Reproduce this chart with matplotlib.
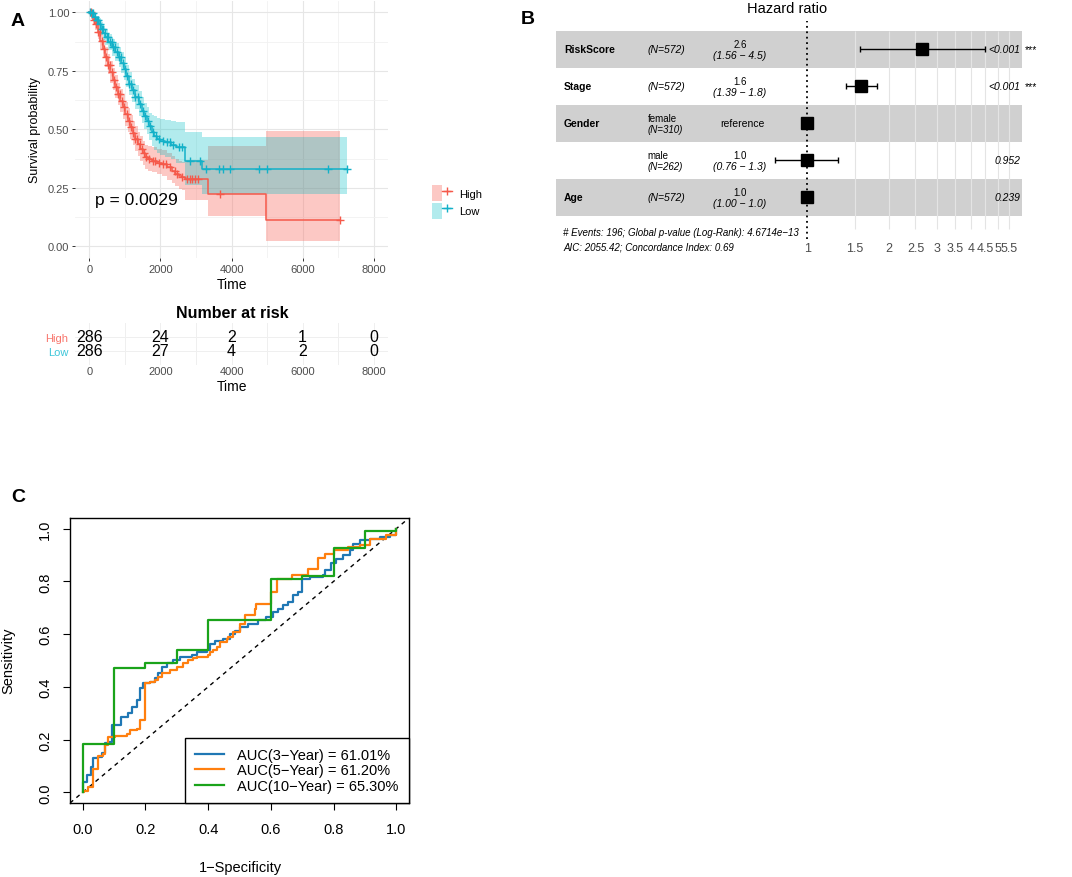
import numpy as np
import matplotlib
matplotlib.use("Agg")
import matplotlib.pyplot as plt
import matplotlib.transforms as mtransforms
from matplotlib.patches import Patch
from matplotlib.lines import Line2D
from matplotlib.legend_handler import HandlerTuple
from matplotlib.ticker import MultipleLocator, NullLocator

plt.rcParams["font.family"] = ["Liberation Sans", "DejaVu Sans"]

# ---------------- data: panel A (Kaplan-Meier) ----------------
high_t = [0, 60, 120, 170, 240, 310, 380, 450, 520, 590, 660, 731, 800, 871, 940, 1012, 1080,
          1152, 1220, 1293, 1360, 1433, 1500, 1574, 1650, 1761, 1900, 2043, 2200, 2324, 2420,
          2512, 2600, 2698, 3350, 4976, 7054]
high_s = [1.0, .985, .965, .95, .915, .879, .845, .808, .776, .744, .712, .68, .651, .622, .594,
          .565, .537, .508, .484, .459, .437, .416, .398, .38, .372, .366, .358, .352, .338, .323,
          .31, .302, .295, .288, .224, .114, .114]
high_lo = [1.0, .97, .945, .925, .885, .845, .808, .768, .735, .70, .667, .634, .604, .574, .546,
           .516, .488, .459, .434, .409, .387, .366, .348, .33, .322, .316, .307, .30, .285, .27,
           .256, .247, .24, .20, .128, .024, .024]
high_hi = [1.0, 1.0, .985, .975, .945, .915, .885, .85, .82, .79, .76, .73, .70, .673, .645, .617,
           .59, .561, .537, .512, .49, .47, .452, .435, .428, .423, .415, .41, .398, .385, .372,
           .365, .36, .37, .43, .494, .494]
high_cens = [50, 130, 190, 250, 300, 350, 410, 470, 530, 580, 640, 700, 760, 810, 870, 930, 990,
             1050, 1110, 1170, 1240, 1300, 1350, 1420, 1470, 1530, 1600, 1680, 1780, 1850, 1950,
             2080, 2150, 2280, 2400, 2480, 2620, 2740, 2820, 2900, 2980, 3060, 3680, 7054]

low_t = [0, 60, 130, 200, 262, 330, 400, 450, 540, 638, 730, 824, 900, 964, 1030, 1105, 1200,
         1293, 1390, 1481, 1550, 1622, 1690, 1762, 1830, 1903, 2000, 2136, 2300, 2450, 2698,
         3167, 7243]
low_s = [1.0, .995, .98, .965, .95, .93, .91, .893, .872, .85, .83, .808, .785, .758, .727, .694,
         .666, .637, .608, .58, .558, .537, .512, .487, .472, .459, .452, .444, .435, .423, .366,
         .33, .33]
low_lo = [1.0, .985, .965, .945, .925, .903, .88, .86, .837, .812, .79, .765, .74, .712, .68, .645,
          .616, .585, .555, .525, .503, .48, .455, .43, .413, .40, .392, .383, .372, .358, .26,
          .223, .223]
low_hi = [1.0, 1.0, .995, .985, .975, .958, .94, .925, .907, .888, .87, .851, .83, .805, .776, .745,
          .717, .69, .662, .636, .614, .594, .57, .56, .555, .55, .545, .54, .535, .53, .49,
          .466, .466]
low_cens = [20, 70, 110, 160, 210, 250, 300, 350, 390, 440, 490, 530, 580, 630, 680, 720, 780,
            830, 880, 940, 1000, 1060, 1120, 1180, 1230, 1300, 1360, 1420, 1500, 1560, 1640, 1720,
            1800, 1870, 1950, 2080, 2180, 2260, 2350, 2520, 2605, 2838, 3119, 3288, 3662, 3775,
            3944, 4760, 5012, 6726, 7243]

risk_times = [0, 2000, 4000, 6000, 8000]
risk_high = [286, 24, 2, 1, 0]
risk_low = [286, 27, 4, 2, 0]

# ---------------- data: panel B (forest plot) ----------------
fp_names = ["RiskScore", "Stage", "Gender", "", "Age"]
fp_level = ["(N=572)", "(N=572)", "female", "male", "(N=572)"]
fp_level2 = ["", "", "(N=310)", "(N=262)", ""]
fp_hr = [2.64, 1.58, 1.0, 1.0, 1.0]
fp_lo = [1.56, 1.39, np.nan, 0.76, 1.00]
fp_hi = [4.5, 1.8, np.nan, 1.3, 1.0]
fp_est = ["2.6", "1.6", "reference", "1.0", "1.0"]
fp_ci = ["(1.56 \u2212 4.5)", "(1.39 \u2212 1.8)", "", "(0.76 \u2212 1.3)", "(1.00 \u2212 1.0)"]
fp_p = ["<0.001", "<0.001", "", "0.952", "0.239"]
fp_star = ["***", "***", "", "", ""]
fp_ticks = [1, 1.5, 2, 2.5, 3, 3.5, 4, 4.5, 5, 5.5]

# ---------------- data: panel C (ROC) ----------------
roc3_x = [0, 0.002, 0.013, 0.026, 0.034, 0.05, 0.061, 0.071, 0.082, 0.093, 0.124, 0.146, 0.156,
          0.172, 0.183, 0.194, 0.215, 0.231, 0.241, 0.252, 0.268, 0.289, 0.311, 0.348, 0.364,
          0.396, 0.406, 0.422, 0.449, 0.47, 0.486, 0.502, 0.528, 0.559, 0.586, 0.607, 0.623,
          0.639, 0.655, 0.671, 0.687, 0.70, 0.724, 0.767, 0.772, 0.793, 0.809, 0.830, 0.851,
          0.862, 0.883, 0.915, 0.947, 0.979, 1.0, 1.0]
roc3_y = [0, 0.04, 0.066, 0.097, 0.129, 0.135, 0.148, 0.186, 0.192, 0.255, 0.287, 0.30, 0.325,
          0.35, 0.394, 0.413, 0.419, 0.432, 0.451, 0.476, 0.489, 0.501, 0.514, 0.52, 0.533,
          0.539, 0.564, 0.573, 0.583, 0.60, 0.611, 0.628, 0.64, 0.653, 0.665, 0.684, 0.697,
          0.71, 0.722, 0.747, 0.76, 0.81, 0.817, 0.823, 0.842, 0.868, 0.886, 0.899, 0.918,
          0.943, 0.955, 0.962, 0.968, 0.975, 0.981, 1.0]
roc5_x = [0, 0.005, 0.018, 0.034, 0.05, 0.066, 0.071, 0.082, 0.103, 0.14, 0.151, 0.172, 0.183,
          0.20, 0.215, 0.231, 0.241, 0.252, 0.279, 0.30, 0.321, 0.337, 0.353, 0.364, 0.401,
          0.406, 0.416, 0.428, 0.437, 0.46, 0.464, 0.48, 0.50, 0.517, 0.549, 0.552, 0.60, 0.618,
          0.666, 0.719, 0.75, 0.772, 0.80, 0.846, 0.883, 0.915, 0.968, 1.0, 1.0]
roc5_y = [0, 0.005, 0.02, 0.09, 0.14, 0.147, 0.18, 0.21, 0.215, 0.223, 0.236, 0.242, 0.274,
          0.413, 0.42, 0.425, 0.438, 0.451, 0.463, 0.476, 0.489, 0.501, 0.508, 0.514, 0.52,
          0.533, 0.539, 0.552, 0.571, 0.583, 0.59, 0.609, 0.64, 0.672, 0.697, 0.716, 0.76, 0.81,
          0.823, 0.847, 0.889, 0.902, 0.92, 0.93, 0.939, 0.962, 0.977, 0.987, 1.0]
roc10_x = [0, 0, 0.1, 0.2, 0.3, 0.4, 0.6, 0.7, 0.8, 0.9, 1.0, 1.0]
roc10_y = [0, 0.185, 0.47, 0.49, 0.54, 0.653, 0.81, 0.82, 0.927, 0.99, 1.0, 1.0]
roc_labels = ["AUC(3\u2212Year) = 61.01%", "AUC(5\u2212Year) = 61.20%", "AUC(10\u2212Year) = 65.30%"]
roc_colors = ["#1f77b4", "#ff7f0e", "#1aa31a"]

W, H = 1072, 878
fig = plt.figure(figsize=(W / 100, H / 100), dpi=100)


def box(l, t, r, b):
    return fig.add_axes([l / W, 1 - b / H, (r - l) / W, (b - t) / H])


def ftext(x, y, s, **kw):
    kw.setdefault("ha", "center")
    kw.setdefault("va", "center")
    fig.text(x / W, 1 - y / H, s, **kw)


red, cyan = "#F5594A", "#13B1C8"
grey_txt = "#4D4D4D"

# ================= panel A =================
ax = box(75, 1.6, 388, 259)
ax.set_xlim(-400, 8400)
ax.set_ylim(-0.05, 1.05)
ax.xaxis.set_major_locator(MultipleLocator(2000))
ax.xaxis.set_minor_locator(MultipleLocator(1000))
ax.yaxis.set_major_locator(MultipleLocator(0.25))
ax.yaxis.set_minor_locator(MultipleLocator(0.125))
ax.grid(which="major", color="#E6E6E6", lw=0.8)
ax.grid(which="minor", color="#F1F1F1", lw=0.6)
ax.set_axisbelow(True)
for sp in ax.spines.values():
    sp.set_visible(False)
ax.tick_params(which="minor", length=0)
ax.tick_params(which="major", length=2.5, width=0.7, color="#333333", labelsize=8,
               labelcolor=grey_txt, pad=1.5)
ax.set_yticks([0, 0.25, 0.5, 0.75, 1.0], ["0.00", "0.25", "0.50", "0.75", "1.00"])

for t, lo, hi, fc, al in [(high_t, high_lo, high_hi, "#F8766D", 0.4),
                          (low_t, low_lo, low_hi, "#00BFC4", 0.3)]:
    ax.fill_between(t, lo, hi, step="post", color=fc, alpha=al, lw=0)
for t, s, cens, col in [(high_t, high_s, high_cens, red), (low_t, low_s, low_cens, cyan)]:
    ax.step(t, s, where="post", color=col, lw=1.1)
    idx = np.searchsorted(t, cens, side="right") - 1
    ax.plot(cens, np.array(s)[idx], ls="none", marker="+", ms=6, mew=1, color=col)

ax.text(170, 0.2, "p = 0.0029", fontsize=12.5, va="center")
ftext(232, 285, "Time", fontsize=10)
ftext(35, 130, "Survival probability", fontsize=9, rotation=90)
ftext(18, 22, "A", fontsize=14, fontweight="bold")

handles = [(Patch(facecolor="#F8766D", alpha=0.4, lw=0),
            Line2D([], [], color=red, marker="+", lw=1, ms=6)),
           (Patch(facecolor="#00BFC4", alpha=0.3, lw=0),
            Line2D([], [], color=cyan, marker="+", lw=1, ms=6))]
fig.legend(handles, ["High", "Low"], handler_map={tuple: HandlerTuple(ndivide=None)},
           loc="upper left", bbox_to_anchor=(432 / W, 1 - 186 / H), frameon=False,
           fontsize=8, borderpad=0, handlelength=1.8, handleheight=1.9, labelspacing=0.1,
           handletextpad=0.6, borderaxespad=0)

# risk table
axr = box(75, 324, 388, 366)
axr.set_xlim(-400, 8400)
axr.set_ylim(-1, 2)
axr.xaxis.set_major_locator(MultipleLocator(2000))
axr.xaxis.set_minor_locator(MultipleLocator(1000))
axr.set_yticks([1, 0], ["High", "Low"])
axr.grid(which="both", axis="x", color="#EFEFEF", lw=0.7)
axr.grid(which="major", axis="y", color="#EFEFEF", lw=0.7)
axr.set_axisbelow(True)
for sp in axr.spines.values():
    sp.set_visible(False)
axr.tick_params(which="both", length=0)
axr.tick_params(axis="x", labelsize=8, labelcolor=grey_txt, pad=1)
axr.tick_params(axis="y", labelsize=8, pad=5)
axr.get_yticklabels()[0].set_color("#F8766D")
axr.get_yticklabels()[1].set_color("#3DC6D9")
for x, a, b in zip(risk_times, risk_high, risk_low):
    axr.text(x, 1, str(a), ha="center", va="center", fontsize=11.5)
    axr.text(x, 0, str(b), ha="center", va="center", fontsize=11.5)
ftext(232, 313, "Number at risk", fontsize=11.5, fontweight="bold")
ftext(232, 387, "Time", fontsize=10)

# ================= panel B =================
axf = box(556, 22, 1022, 240)
axf.set_xscale("log")
axf.set_xlim(0.1198, 6.15)
axf.set_ylim(5.122, -0.770)
for i in range(len(fp_names)):
    if i % 2 == 0:
        axf.axhspan(i - 0.5, i + 0.5, color="#D0D0D0", lw=0, zorder=0)
axf.vlines(fp_ticks[1:], -0.5, 4.85, color="#E4E4E4", lw=0.8, zorder=1)
axf.axvline(1, color="black", ls=(0, (1, 2)), lw=1.3, zorder=2)
rows = np.arange(len(fp_names))
hr = np.array(fp_hr)
lo = np.array(fp_lo)
hi = np.array(fp_hi)
ok = np.isfinite(lo)
axf.errorbar(hr[ok], rows[ok], xerr=[hr[ok] - lo[ok], hi[ok] - hr[ok]], fmt="none",
             ecolor="black", elinewidth=1, capsize=2.5, capthick=1, zorder=3)
axf.plot(hr, rows, ls="none", marker="s", ms=8, color="black", zorder=4)
for sp in axf.spines.values():
    sp.set_visible(False)
axf.set_yticks([])
axf.xaxis.set_minor_locator(NullLocator())
axf.set_xticks(fp_ticks, [f"{v:g}" for v in fp_ticks])
axf.tick_params(axis="x", length=0, pad=2, labelsize=9, labelcolor=grey_txt)

tr = mtransforms.blended_transform_factory(axf.transAxes, axf.transData)
for i in rows:
    axf.text(0.017, i, fp_names[i], transform=tr, fontsize=7.5, fontweight="bold",
             va="center", ha="left")
    if fp_level2[i]:
        axf.text(0.197, i - 0.15, fp_level[i], transform=tr, fontsize=7, va="center")
        axf.text(0.197, i + 0.15, fp_level2[i], transform=tr, fontsize=7, va="center",
                 style="italic")
    else:
        axf.text(0.197, i, fp_level[i], transform=tr, fontsize=7.5, va="center",
                 style="italic")
    if fp_ci[i]:
        axf.text(0.395, i - 0.14, fp_est[i], transform=tr, fontsize=7, va="center",
                 ha="center")
        axf.text(0.395, i + 0.16, fp_ci[i], transform=tr, fontsize=7.5, va="center",
                 ha="center", style="italic")
    else:
        axf.text(0.40, i, fp_est[i], transform=tr, fontsize=7.5, va="center", ha="center")
    axf.text(0.996, i, fp_p[i], transform=tr, fontsize=7.5, va="center", ha="right",
             style="italic")
    axf.text(1.006, i, fp_star[i], transform=tr, fontsize=7.5, va="center", ha="left",
             clip_on=False)

ftext(787, 9, "Hazard ratio", fontsize=10.5)
ftext(563, 233, "# Events: 196; Global p-value (Log-Rank): 4.6714e\u221213", fontsize=7,
      style="italic", ha="left")
ftext(563, 248, "AIC: 2055.42; Concordance Index: 0.69", fontsize=7, style="italic",
      ha="left")
ftext(528, 20, "B", fontsize=14, fontweight="bold")

# ================= panel C =================
axc = box(70, 519, 409, 804)
axc.set_xlim(-0.04, 1.04)
axc.set_ylim(-0.04, 1.04)
axc.plot([-0.04, 1.04], [-0.04, 1.04], color="black", ls=(0, (3, 3)), lw=1)
for xs, ys, lab, col in zip([roc3_x, roc5_x, roc10_x], [roc3_y, roc5_y, roc10_y],
                            roc_labels, roc_colors):
    axc.step(xs, ys, where="post", color=col, lw=1.6, label=lab)
ticks = [0, 0.2, 0.4, 0.6, 0.8, 1.0]
axc.set_xticks(ticks, [f"{v:.1f}" for v in ticks])
axc.set_yticks(ticks, [f"{v:.1f}" for v in ticks])
axc.tick_params(axis="both", length=5, width=0.8, labelsize=10.5)
axc.tick_params(axis="x", pad=9)
axc.tick_params(axis="y", pad=8)
for lab in axc.get_yticklabels():
    lab.set_rotation(90)
    lab.set_va("center")
for sp in axc.spines.values():
    sp.set_linewidth(1)
leg = axc.legend(loc="lower right", bbox_to_anchor=(1, 0), borderaxespad=0, fancybox=False,
                 edgecolor="black", framealpha=1, fontsize=10.5, handlelength=2.0,
                 handletextpad=0.9, borderpad=0.7, labelspacing=0.1)
leg.get_frame().set_linewidth(1)
ftext(8, 661, "Sensitivity", fontsize=10.5, rotation=90)
ftext(240, 868, "1\u2212Specificity", fontsize=10.5)
ftext(18, 498, "C", fontsize=14, fontweight="bold")

fig.savefig("out.png", dpi=100)
